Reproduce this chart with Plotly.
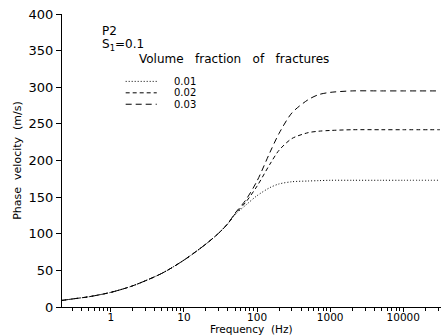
import plotly.graph_objects as go
import numpy as np

freq = [0.215, 0.3, 0.5, 1, 2, 5, 10, 20, 30, 40, 50, 70, 100, 150, 200, 300, 500, 700, 1000, 2000, 5000, 10000, 31600]
v_001 = [9, 11, 14, 20, 29, 46, 64, 86, 101, 114, 126, 139, 152, 163, 168, 171, 172, 172.5, 173, 173, 173, 173, 173]
v_002 = [9, 11, 14, 20, 29, 46, 64, 86, 101, 114, 127, 143, 165, 195, 214, 230, 238, 240, 241, 242, 242, 242, 242]
v_003 = [9, 11, 14, 20, 29, 46, 64, 86, 101, 114, 128, 146, 172, 211, 237, 265, 283, 290, 293, 295, 295, 295, 295]
series_names = ["0.01", "0.02", "0.03"]
dashes = ["1px,2px", "4px,3px", "6px,4px"]
x_ticks = [1, 10, 100, 1000, 10000]
x_ticktext = ["1", "10", "100", "1000", "10000"]
y_ticks = [0, 50, 100, 150, 200, 250, 300, 350, 400]

FONT = "DejaVu Sans"
fig = go.Figure()
for vals, name, d in zip([v_001, v_002, v_003], series_names, dashes):
    fig.add_trace(go.Scatter(x=freq, y=vals, mode="lines", name=name,
                             line=dict(color="black", width=1, dash=d, shape="spline", smoothing=0.8),
                             showlegend=False))

# manual legend
x0, x1, xt = 0.168, 0.25, 0.292
ys = [0.770, 0.731, 0.692]
for name, d, yy in zip(series_names, dashes, ys):
    fig.add_shape(type="line", xref="paper", yref="paper", x0=x0, x1=x1, y0=yy, y1=yy,
                  line=dict(color="black", width=1, dash=d))
    fig.add_annotation(xref="paper", yref="paper", x=xt, y=yy, text=name, showarrow=False,
                       xanchor="left", yanchor="middle", borderpad=0,
                       font=dict(family=FONT, size=10, color="black"))

fig.add_annotation(xref="paper", yref="paper", x=0.103, y=0.941, text="P2", showarrow=False,
                   xanchor="left", yanchor="middle", borderpad=0, font=dict(family=FONT, size=12, color="black"))
fig.add_annotation(xref="paper", yref="paper", x=0.103, y=0.893, text="S<sub>1</sub>=0.1", showarrow=False,
                   xanchor="left", yanchor="middle", borderpad=0, font=dict(family=FONT, size=12, color="black"))
fig.add_annotation(xref="paper", yref="paper", x=0.2, y=0.846, text="Volume   fraction   of   fractures",
                   showarrow=False, xanchor="left", yanchor="middle", borderpad=0,
                   font=dict(family=FONT, size=12, color="black"))
fig.add_annotation(xref="paper", yref="paper", x=0.5, y=-0.099, text="Frequency  (Hz)", showarrow=False,
                   xanchor="center", yanchor="bottom", borderpad=0,
                   font=dict(family=FONT, size=10.5, color="black"))

fig.update_xaxes(type="log", range=[np.log10(0.215), 4.516], tickvals=x_ticks, ticktext=x_ticktext,
                 showline=True, linecolor="black", linewidth=1, ticks="outside", ticklen=4, tickcolor="black",
                 minor=dict(ticks="outside", ticklen=3, tickcolor="black", dtick="D1"),
                 showgrid=False, zeroline=False, ticklabelstandoff=-4,
                 tickfont=dict(family=FONT, size=10.5, color="black"))
fig.update_yaxes(range=[0, 400], tickvals=y_ticks, showline=True, linecolor="black", linewidth=1,
                 ticks="outside", ticklen=5, tickcolor="black", showgrid=False, zeroline=False,
                 tickfont=dict(family=FONT, size=13, color="black"),
                 title=dict(text="Phase  velocity  (m/s)", font=dict(family=FONT, size=11, color="black"), standoff=4))
fig.update_layout(width=441, height=336, margin=dict(l=62, r=0, t=14, b=29),
                  plot_bgcolor="white", paper_bgcolor="white")
fig.write_html("out.html")
